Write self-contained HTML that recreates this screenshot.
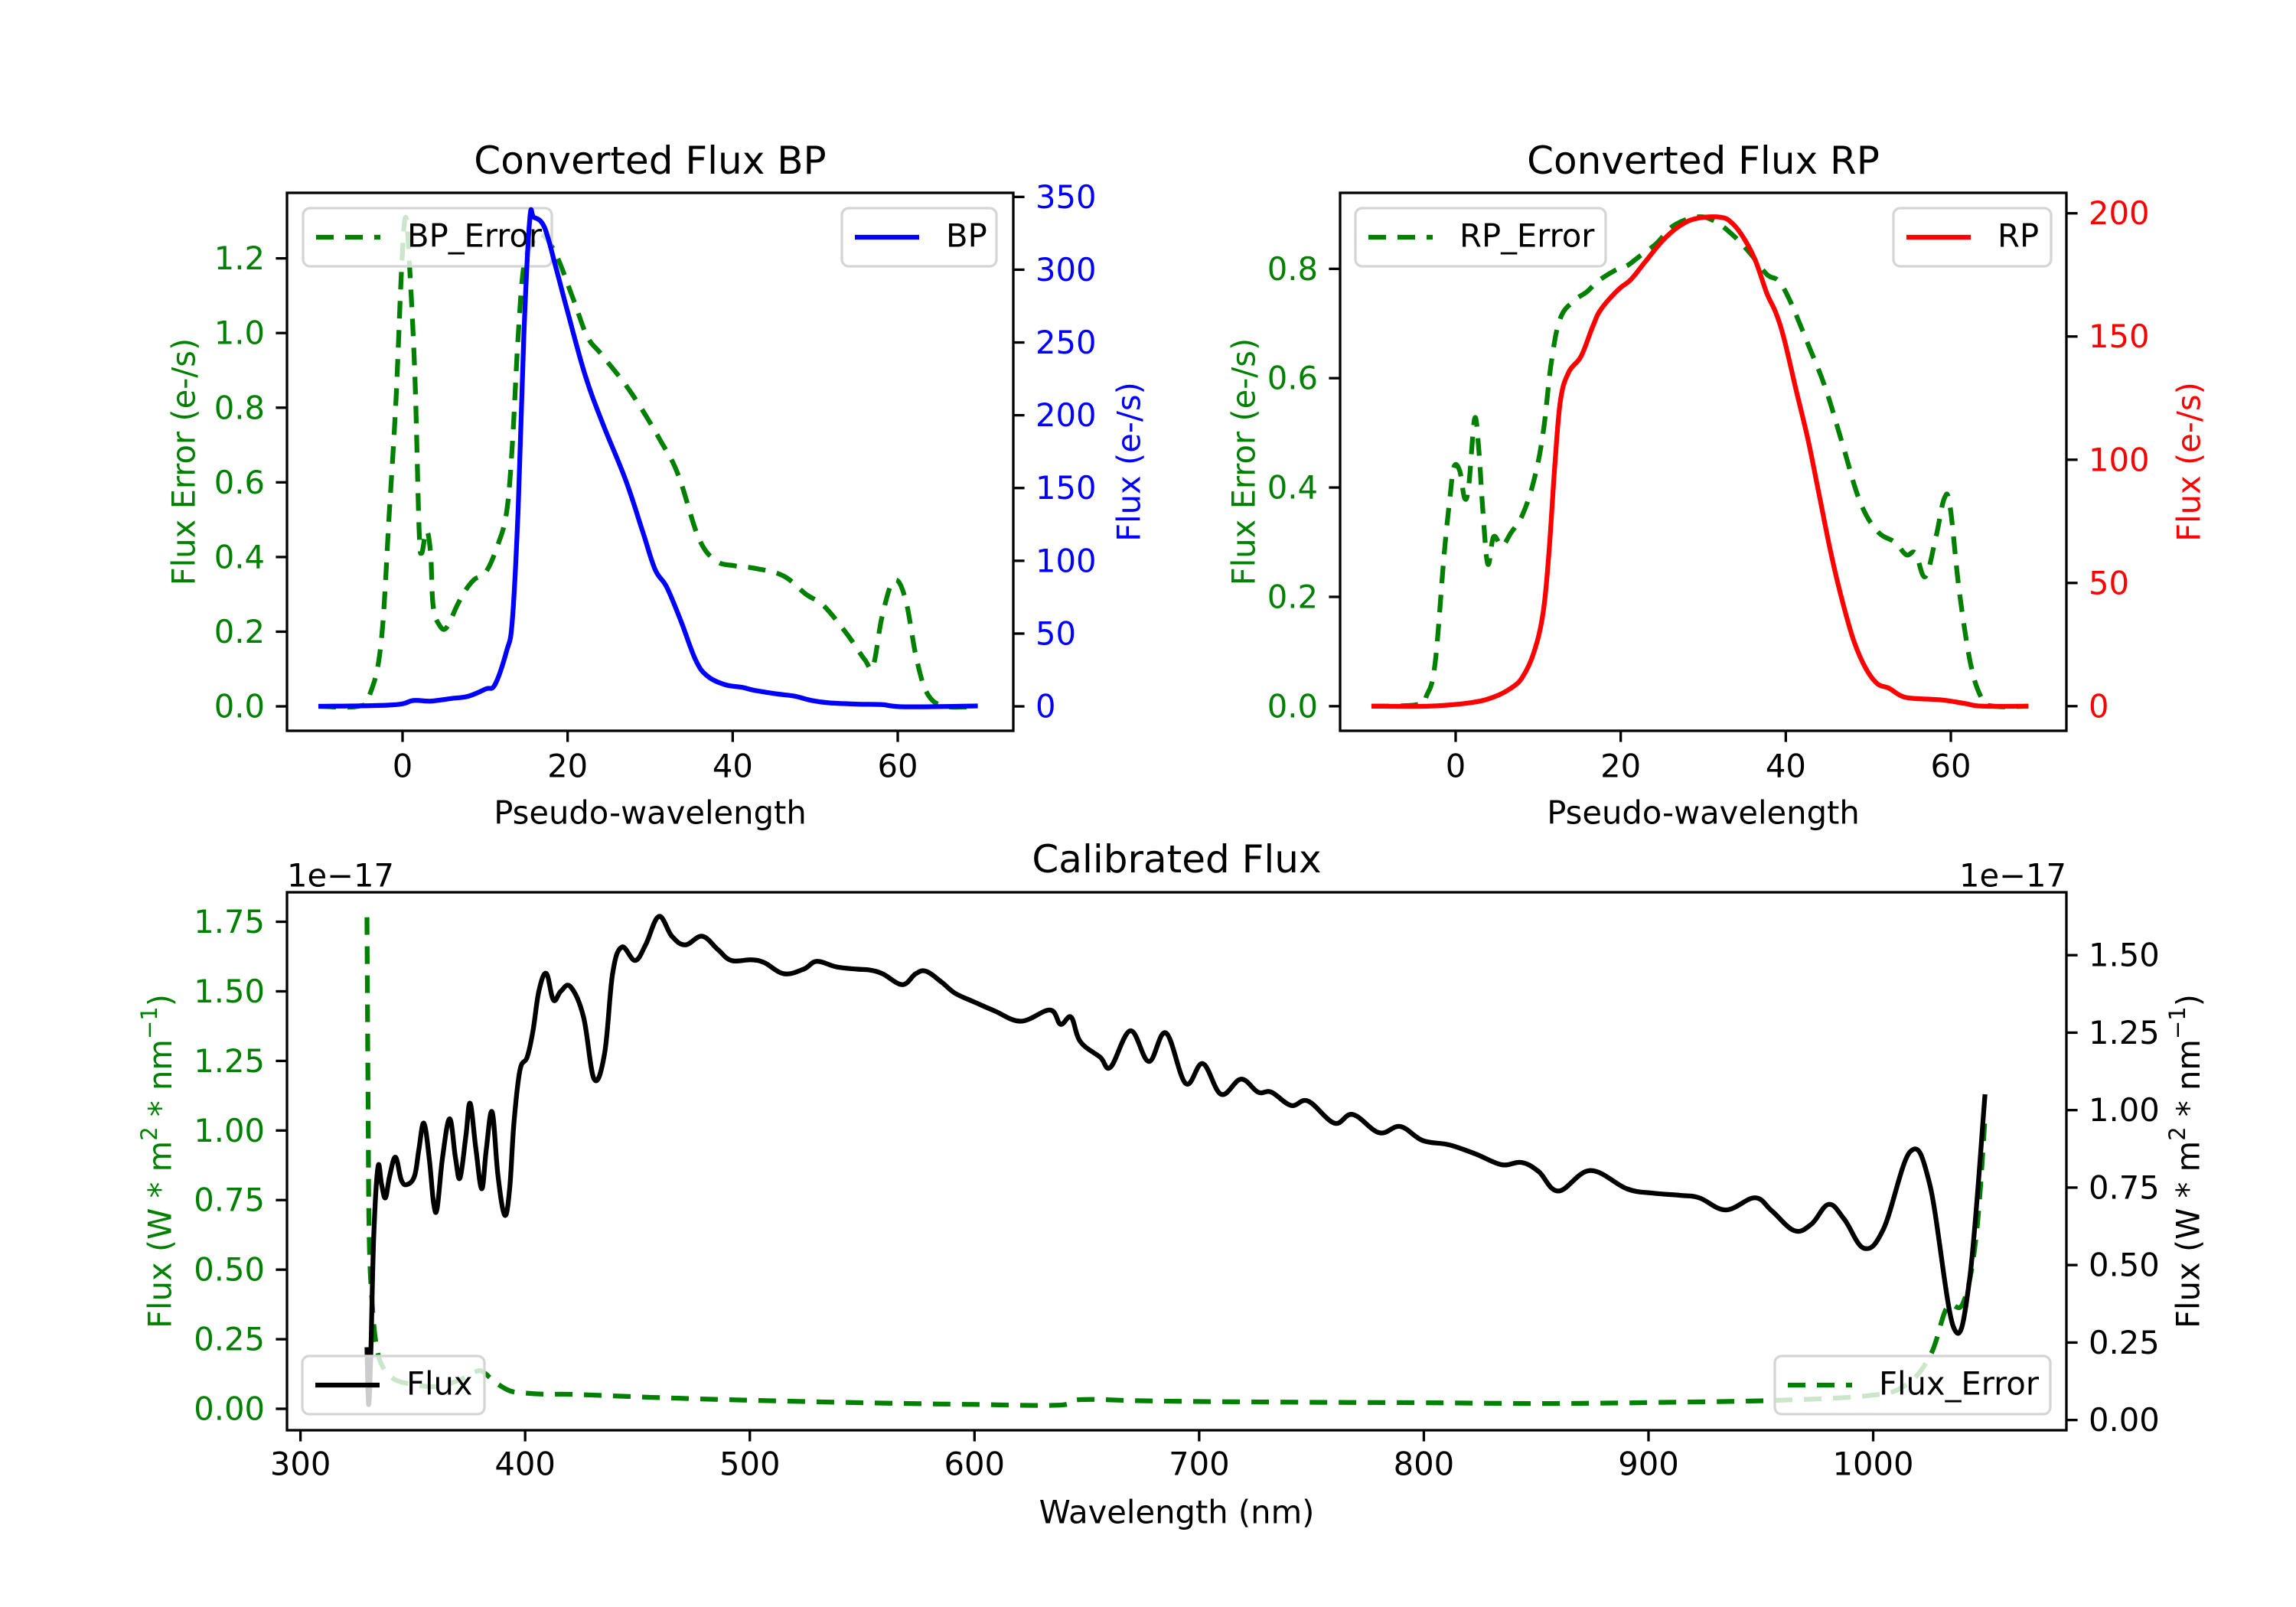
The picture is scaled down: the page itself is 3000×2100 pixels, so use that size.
<!DOCTYPE html>
<html><head><meta charset="utf-8"><title>Converted and Calibrated Flux</title>
<style>
html,body{margin:0;padding:0;background:#fff;}
svg{display:block;font-family:"DejaVu Sans","Liberation Sans",sans-serif;}
</style></head>
<body>
<svg id="fig" width="3000" height="2100" viewBox="0 0 3000 2100" xmlns="http://www.w3.org/2000/svg"></svg>
<script>
// ---------- BP panel data ----------
const bpX = [-10.2,-1.2,1.3,3.4,5.9,8,10.1,11.2,12.6,13.3,14,14.7,15.4,15.9,17.2,18.6,20,22.1,24.2,27,29.1,30.6,32,33.7,35.5,36.9,39,41.2,42.6,45.4,47.5,49.6,51.7,55.3,58.1,60.9,69.7];
const bpFlux = [0,1,4,3.6,5.4,7,12,15,38,59,135,255,334,336,329,301,271,228,195,156,120,94,82,59,32,21,15,13,11,8.5,7,4,2.4,1.5,1.2,-0.3,0.3];
const bpErrX = [-10.2,-5.4,-4,-2.6,-1.6,-0.8,-0.1,0.4,0.9,1.5,2,2.3,2.9,3.4,3.7,4.4,5.3,6.6,7.6,8.7,10.1,11.5,12.6,13.3,14,14.7,15.7,16.8,18.6,20.7,22.4,24.2,27.7,31.3,33.4,35.9,38,40.1,42.6,46.1,48.9,51,53.8,56,57,58.1,59.5,60.9,62.3,63.7,65.9,69.7];
const bpErr = [0,0,0.03,0.17,0.52,0.82,1.18,1.31,1.16,0.88,0.48,0.41,0.47,0.41,0.27,0.22,0.21,0.27,0.31,0.34,0.36,0.43,0.52,0.70,0.99,1.18,1.24,1.265,1.21,1.09,0.99,0.94,0.84,0.71,0.62,0.45,0.39,0.377,0.37,0.35,0.30,0.27,0.195,0.125,0.107,0.24,0.336,0.29,0.125,0.03,0,0];
// ---------- RP panel data ----------
const rpX = [-10.2,-3.2,1.8,4.6,6.7,8.1,9.5,10.6,11.3,12,12.7,13.7,15.2,16.6,17.6,19.7,21.2,22.9,25.1,27.2,29.3,32.1,33.5,34.9,36.3,37.7,38.8,39.8,41.2,42.7,44.1,45.5,46.9,48.3,49.7,51.1,52.5,53.9,55.3,58.9,61.7,63.8,69.4];
const rpFlux = [0,0,1.4,3.7,7.3,11.8,22,38,62,97,124,135.5,142,154,161,169,173,180,189,195,198,198.4,196,190,181,167.6,159.6,149,129,108,84.8,61.6,42,26,15.3,9.1,7.3,4.3,3.2,2.5,1.1,0,0];
const rpErrX = [-10.2,-4.6,-3.5,-2.5,-1.4,-0.7,-0.2,0.5,1.1,1.6,2.3,2.8,3.3,3.9,4.6,5.6,6.7,8.1,9.5,10.6,11.6,12.7,14.4,15.9,17.3,19.4,20.8,22.2,24.3,26.4,29.3,31.4,33.5,35.6,37.7,39.1,40.5,42.7,44.8,46.9,49,51.1,53.2,54.6,55.7,56.9,58.2,59.2,59.9,61,62.4,63.8,65.2,69.4];
const rpErr = [0,0.003,0.02,0.077,0.277,0.38,0.438,0.43,0.38,0.405,0.526,0.47,0.357,0.26,0.31,0.293,0.317,0.35,0.414,0.5,0.63,0.71,0.742,0.758,0.778,0.798,0.806,0.822,0.846,0.879,0.895,0.887,0.863,0.83,0.79,0.778,0.742,0.662,0.582,0.478,0.374,0.32,0.3,0.277,0.28,0.237,0.31,0.38,0.366,0.213,0.077,0.013,0,0];
// ---------- Calibrated panel data (units of 1e-17) ----------
const calWl = [329.6,330.3,331.3,332.6,334.5,336.1,337.8,339.7,342.3,344.9,347.5,350.8,352.7,354.9,357.3,359.2,360.8,363.2,366.4,369,371,373.6,375.5,378.1,380.7,382.7,385.3,387.9,390.9,393.1,395,397.7,400.9,403.5,406.1,409.4,412.6,415.9,420.2,426,430.7,435.4,438.9,443,448.9,453.6,459.5,465.3,471.2,478.8,485.8,491.7,500.5,506.4,515.2,524,529.8,538.6,547.4,553.3,559.1,567.9,573.8,578.5,585.5,591.4,600.2,609,620.7,633.6,638.3,643,647.1,655.9,660.6,669.4,677.6,685.2,694,701.6,709.8,718.6,726.2,732.1,740.9,748.5,760.2,768.4,780.1,789.5,799.5,811.2,822.9,834.6,843.5,851.1,859.9,874,890.4,902.1,913.9,922.6,934.4,947.3,954.9,964.9,972.5,980.2,987.2,996,1004.7,1016.5,1025.2,1035.8,1042.8,1049.8];
const calFlux = [0.235,0.05,0.214,0.59,0.817,0.76,0.717,0.788,0.848,0.774,0.76,0.788,0.873,0.958,0.845,0.703,0.682,0.845,0.972,0.845,0.781,0.916,1.022,0.873,0.746,0.873,0.994,0.788,0.661,0.746,0.958,1.129,1.171,1.256,1.384,1.441,1.355,1.384,1.398,1.3,1.1,1.185,1.44,1.526,1.483,1.533,1.625,1.561,1.533,1.561,1.518,1.483,1.485,1.476,1.44,1.455,1.48,1.462,1.455,1.452,1.44,1.405,1.44,1.448,1.412,1.377,1.348,1.32,1.287,1.323,1.277,1.3,1.221,1.171,1.139,1.256,1.157,1.249,1.086,1.15,1.051,1.1,1.058,1.058,1.015,1.029,0.958,0.986,0.927,0.947,0.902,0.888,0.859,0.824,0.831,0.802,0.739,0.805,0.746,0.732,0.725,0.717,0.678,0.717,0.675,0.611,0.632,0.696,0.647,0.554,0.618,0.866,0.76,0.299,0.448,1.051];
const errWl = [329.6,330.1,330.6,331.9,333.9,337.1,342.3,350.1,360.5,370.9,378.8,382,386.6,393.1,399.6,410,421.4,456.5,503.4,562.1,597.2,637.1,647.1,679.3,737.9,796.6,855.2,913.9,954.9,996,1013.5,1025.3,1032.9,1040,1045.8,1049.9];
const errFlux = [1.766,1.09,0.617,0.38,0.222,0.144,0.104,0.088,0.08,0.104,0.136,0.128,0.096,0.065,0.057,0.052,0.052,0.041,0.03,0.02,0.016,0.013,0.033,0.028,0.024,0.022,0.019,0.024,0.03,0.046,0.08,0.19,0.365,0.38,0.617,1.06];
// ticks
const topXTicks = [0,20,40,60];
const bpErrTicks = ['0.0','0.2','0.4','0.6','0.8','1.0','1.2'];
const bpFluxTicks = ['0','50','100','150','200','250','300','350'];
const rpErrTicks = ['0.0','0.2','0.4','0.6','0.8'];
const rpFluxTicks = ['0','50','100','150','200'];
const calXTicks = [300,400,500,600,700,800,900,1000];
const calErrTicks = ['0.00','0.25','0.50','0.75','1.00','1.25','1.50','1.75'];
const calFluxTicks = ['0.00','0.25','0.50','0.75','1.00','1.25','1.50'];

const NS='http://www.w3.org/2000/svg';
const svg=document.getElementById('fig');
const FS=41.67, LW=6.25, TW=3.3, TL=14.6;
function mk(tag, parent, attrs){const e=document.createElementNS(NS,tag);for(const k in attrs)e.setAttribute(k,attrs[k]);parent.appendChild(e);return e;}
function scale(d0,d1,p0,p1){return v=>p0+(v-d0)*(p1-p0)/(d1-d0);}
function txt(parent,x,y,s,opts){const t=mk('text',parent,Object.assign({x:x,y:y,'font-size':FS,'dominant-baseline':'central',fill:'#000'},opts||{}));t.textContent=s;return t;}
function smoothPath(P){
  let d='M'+P[0][0].toFixed(1)+' '+P[0][1].toFixed(1);
  const k=0.18;
  for(let i=0;i<P.length-1;i++){
    const p0=P[Math.max(0,i-1)],p1=P[i],p2=P[i+1],p3=P[Math.min(P.length-1,i+2)];
    const c1x=p1[0]+(p2[0]-p0[0])*k,c1y=p1[1]+(p2[1]-p0[1])*k;
    const c2x=p2[0]-(p3[0]-p1[0])*k,c2y=p2[1]-(p3[1]-p1[1])*k;
    d+='C'+c1x.toFixed(1)+' '+c1y.toFixed(1)+' '+c2x.toFixed(1)+' '+c2y.toFixed(1)+' '+p2[0].toFixed(1)+' '+p2[1].toFixed(1);
  }
  return d;
}

function panel(cfg){
  const g=mk('g',svg,{});
  
  
  const {L,R,T,B}=cfg;
  const sx=scale(cfg.xr[0],cfg.xr[1],L,R);
  const syL=scale(cfg.ylr[0],cfg.ylr[1],B,T);
  const syR=scale(cfg.yrr[0],cfg.yrr[1],B,T);
  const clipId='clip-'+cfg.name;
  const cp=mk('clipPath',g,{id:clipId});mk('rect',cp,{x:L,y:T,width:R-L,height:B-T});
  function line(xs,ys,sy,color,dashed,nm){
    const P=xs.map((x,i)=>[sx(x),sy(ys[i])]);
    const p=mk('path',g,{d:smoothPath(P),fill:'none',stroke:color,'stroke-width':LW,'stroke-linejoin':'round','clip-path':'url(#'+clipId+')'});
    if(dashed)p.setAttribute('stroke-dasharray','23 15');
    
    
  }
  function legend(x0,x1,label,color,dashed,nm){
    const lg=mk('g',g,{});
    
    
    const cy=cfg.legY;
    mk('rect',lg,{x:x0,y:cy-38,width:x1-x0,height:76,rx:9,fill:'#fff','fill-opacity':0.8,stroke:'#d5d5d5','stroke-width':3.3});
    const h=mk('line',lg,{x1:x0+17,x2:x0+101,y1:cy,y2:cy,stroke:color,'stroke-width':LW});
    if(dashed)h.setAttribute('stroke-dasharray','23 15');
    txt(lg,x0+136,cy-2,label);
  }
  line(cfg.l.x,cfg.l.y,syL,'green',true,cfg.l.name);
  if(cfg.legOrderEarly) legend(cfg.leg1[0],cfg.leg1[1],cfg.leg1[2],'green',true,cfg.leg1[3]);
  line(cfg.r.x,cfg.r.y,syR,cfg.rColor,cfg.r.dashed,cfg.r.name);
  if(!cfg.legOrderEarly) legend(cfg.leg1[0],cfg.leg1[1],cfg.leg1[2],'green',true,cfg.leg1[3]);
  legend(cfg.leg2[0],cfg.leg2[1],cfg.leg2[2],cfg.rColor,false,cfg.leg2[3]);
  const sp=mk('rect',g,{x:L,y:T,width:R-L,height:B-T,fill:'none',stroke:'#000','stroke-width':TW});
  
  
  cfg.xticks.forEach(v=>{
    const x=sx(v);
    mk('line',g,{x1:x,x2:x,y1:B,y2:B+TL,stroke:'#000','stroke-width':TW});
    const t=txt(g,x,cfg.xtickY,String(v),{'text-anchor':'middle'});
    
    
  });
  cfg.ylt.forEach(s=>{
    const y=syL(parseFloat(s));
    mk('line',g,{x1:L-TL,x2:L,y1:y,y2:y,stroke:'#000','stroke-width':TW});
    const t=txt(g,L-29,y,s,{'text-anchor':'end',fill:'green'});
    
    
  });
  cfg.yrt.forEach(s=>{
    const y=syR(parseFloat(s));
    mk('line',g,{x1:R,x2:R+TL,y1:y,y2:y,stroke:'#000','stroke-width':TW});
    const t=txt(g,R+29,y,s,{'text-anchor':'start',fill:cfg.rTickColor});
    
    
  });
  const ti=txt(g,(L+R)/2,cfg.titleY,cfg.title,{'text-anchor':'middle','font-size':50});
  
  
  const xl=txt(g,(L+R)/2,cfg.xlabelY,cfg.xlabel,{'text-anchor':'middle'});
  
  
  const cyM=(T+B)/2;
  const yl=txt(g,cfg.ylX,cyM,'',{'text-anchor':'middle',fill:'green',transform:'rotate(-90 '+cfg.ylX+' '+cyM+')'});
  cfg.ylabel(yl);
  
  
  const yr=txt(g,cfg.yrX,cyM,'',{'text-anchor':'middle',fill:cfg.rLabelColor,transform:'rotate(-90 '+cfg.yrX+' '+cyM+')'});
  cfg.yrlabel(yr);
  
  
  return g;
}
function plain(s){return t=>{t.textContent=s;};}
function unitLabel(t){
  t.appendChild(document.createTextNode('Flux (W * m'));
  const a=document.createElementNS(NS,'tspan');a.setAttribute('font-size','29');a.setAttribute('dy','-14');a.textContent='2';t.appendChild(a);
  const b=document.createElementNS(NS,'tspan');b.setAttribute('dy','14');b.textContent=' * nm';t.appendChild(b);
  const c=document.createElementNS(NS,'tspan');c.setAttribute('font-size','29');c.setAttribute('dy','-14');c.textContent='\u22121';t.appendChild(c);
  const d=document.createElementNS(NS,'tspan');d.setAttribute('dy','14');d.textContent=')';t.appendChild(d);
}

panel({name:'bp-panel',L:375,R:1324,T:252,B:955,xr:[-14,74],ylr:[-0.0655,1.3755],yrr:[-16.8,352.8],
  l:{x:bpErrX,y:bpErr,name:'bp-error-line'},r:{x:bpX,y:bpFlux,name:'bp-flux-line',dashed:false},rColor:'blue',rTickColor:'blue',rLabelColor:'blue',
  legOrderEarly:true,legY:310,leg1:[396,721,'BP_Error','legend-bp-error'],leg2:[1100,1302,'BP','legend-bp'],
  xticks:topXTicks,xtickY:1001,ylt:bpErrTicks,yrt:bpFluxTicks,title:'Converted Flux BP',titleY:210,xlabel:'Pseudo-wavelength',xlabelY:1062,
  ylX:240,yrX:1475,ylabel:plain('Flux Error (e-/s)'),yrlabel:plain('Flux (e-/s)')});
panel({name:'rp-panel',L:1751,R:2700,T:252,B:955,xr:[-14,74],ylr:[-0.045,0.939],yrr:[-10,208.3],
  l:{x:rpErrX,y:rpErr,name:'rp-error-line'},r:{x:rpX,y:rpFlux,name:'rp-flux-line',dashed:false},rColor:'red',rTickColor:'red',rLabelColor:'red',
  legOrderEarly:true,legY:310,leg1:[1771,2098,'RP_Error','legend-rp-error'],leg2:[2474,2680,'RP','legend-rp'],
  xticks:topXTicks,xtickY:1001,ylt:rpErrTicks,yrt:rpFluxTicks,title:'Converted Flux RP',titleY:210,xlabel:'Pseudo-wavelength',xlabelY:1062,
  ylX:1625,yrX:2860,ylabel:plain('Flux Error (e-/s)'),yrlabel:plain('Flux (e-/s)')});
panel({name:'calibrated-panel',L:375,R:2700,T:1166,B:1869,xr:[294,1086],ylr:[-0.077,1.856],yrr:[-0.033,1.703],
  l:{x:errWl,y:errFlux,name:'flux-error-line'},r:{x:calWl,y:calFlux,name:'calibrated-flux-line',dashed:false},rColor:'#000',rTickColor:'#000',rLabelColor:'#000',
  legOrderEarly:false,legY:1810,leg1:[2319,2679,'Flux_Error','legend-flux-error'],leg2:[395,633,'Flux','legend-flux'],
  xticks:calXTicks,xtickY:1913,ylt:calErrTicks,yrt:calFluxTicks,title:'Calibrated Flux',titleY:1123,xlabel:'Wavelength (nm)',xlabelY:1976,
  ylX:209,yrX:2859,ylabel:unitLabel,yrlabel:unitLabel});
const o1=txt(svg,375,1144,'1e\u221217',{'text-anchor':'start'});


const o2=txt(svg,2700,1144,'1e\u221217',{'text-anchor':'end'});


</script>
</body></html>
